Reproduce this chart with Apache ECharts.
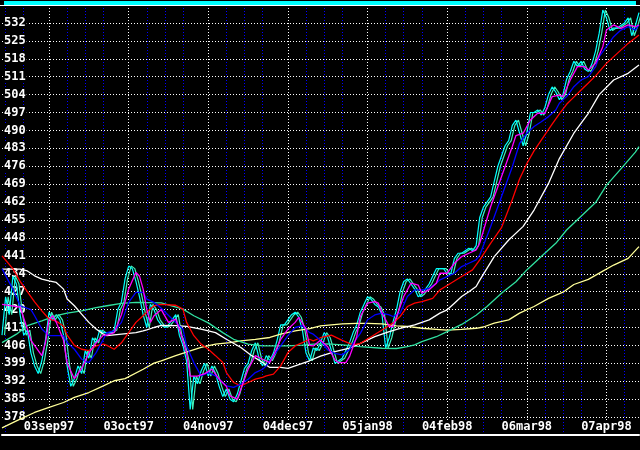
<!DOCTYPE html>
<html>
<head>
<meta charset="utf-8">
<script src="https://cdn.jsdelivr.net/npm/echarts@6/dist/echarts.min.js"></script>
<style>
html,body{margin:0;padding:0;background:#000;}
#chart{width:640px;height:450px;}
</style>
</head>
<body>
<div id="chart"></div>
<script>
// ---- data ----
const startDate = '1997-08-15';
const dayCount = 177;
const tickLabels = ['03sep97','03oct97','04nov97','04dec97','05jan98','04feb98','06mar98','07apr98'];
const yTickValues = [378,385,392,399,406,413,420,427,434,441,448,455,462,469,476,483,490,497,504,511,518,525,532];

const price = [410,425,418,433,430,418,410,412,403,398,
395,400,408,419,416,418,416,410,398,390,
393,398,395,404,401,409,407,412,411,411,
411,412,420,423,432,437,436,431,425,418,
413,422,420,416,414,413,414,416,418,410,
406,400,381,394,391,396,399,394,398,395,
390,386,389,385,384,387,392,397,399,404,
407,401,398,402,400,403,408,414,414,416,
418,419,417,412,403,400,405,404,407,411,
409,404,399,400,401,404,407,411,414,419,
422,425,424,422,421,418,405,409,415,420,
427,431,432,430,428,425,426,428,430,433,
436,436,436,434,434,440,442,442,443,444,
443,445,456,460,462,464,470,476,480,484,
486,492,494,489,484,489,497,497,498,496,
499,504,507,505,502,504,510,513,517,515,
517,514,513,516,521,528,537,534,529,530,
530,531,532,534,527,531,536];

const magentaMA = [[0,422],[5,421],[8,408],[11,402],[12,407],[13,416],[14,417.6],[15,415],[17,408],[18,399],[20,393],[22,397],[24,403],[26,407],[28,410],[29,410],[31,411],[33,418],[35,428],[37,434.5],[38,433],[39,428],[40,420],[41,415],[42,417.6],[44,420],[46,415],[48,416.3],[49,412.4],[51,403],[52,394],[54,394],[56,395],[58,396.7],[60,392.8],[62,390],[63,386.3],[65,385],[66,389],[68,396.7],[70,402],[72,400.6],[74,399.3],[75,402],[77,408.4],[79,412.4],[81,415],[82,417],[84,412.4],[85,406],[86,405.8],[88,408],[90,405.5],[92,400.3],[93,399.3],[95,399.3],[96,401.6],[98,409.4],[99,417.3],[101,422.5],[103,423.1],[104,422.5],[105,418.6],[107,413.4],[108,413.4],[109,417.3],[111,425.1],[113,430.3],[115,429.6],[116,426.4],[118,427.7],[120,430.3],[121,434.2],[123,434.2],[125,438.1],[127,440.7],[129,442],[131,443.3],[132,446],[135,460.2],[138,471.9],[141,483.7],[142,488],[144,488.9],[146,494.1],[148,496.7],[150,496.7],[152,503.2],[154,503.8],[155,503.2],[157,509.7],[159,514.9],[161,514.9],[162,513.6],[164,516.2],[166,522.7],[167,529.2],[169,531.2],[171,529.9],[173,531.2],[175,530.5],[176,531.2]];

const blueMA = [[0,436],[3,428],[5,421.5],[8,420],[9,417.6],[11,412.4],[13,409.8],[15,409.8],[17,409.8],[18,407.1],[20,404.5],[22,400.6],[24,399.3],[26,403.2],[28,408.4],[29,411],[31,411.7],[33,415],[35,422.8],[37,426.7],[39,426.7],[40,424.1],[42,422.8],[44,420.5],[47,416.3],[50,412.4],[51,405.8],[53,399.3],[55,394.1],[57,395.4],[59,394.1],[61,391.5],[62,390.2],[64,389.6],[66,390.9],[68,392.8],[70,395.4],[72,396.7],[73,398],[75,401.9],[77,405.8],[79,409.8],[81,413],[83,413.7],[85,411],[86,410.4],[88,408],[90,404.2],[92,402.9],[94,402.3],[96,404.3],[97,406.8],[99,410.7],[101,416],[103,417.9],[105,418.6],[107,417.9],[108,417.3],[110,418.6],[112,425.1],[114,427.7],[116,427.7],[118,428.3],[120,430.3],[121,431.6],[123,432.9],[125,434.2],[127,436.8],[129,438.1],[131,439.4],[132,441.3],[135,452.4],[138,464.1],[141,475.8],[143,484.9],[145,488.9],[147,491.5],[149,493.4],[151,495.4],[153,498],[154,500.6],[156,503.2],[158,507.1],[160,509.7],[162,511],[164,514.9],[165,518.8],[167,522.7],[169,526.6],[171,529.2],[173,530.5],[175,529.2],[176,531.2]];

const redMA = [[0,441],[3,436],[5,431],[7,427],[9,423],[11,419.5],[13,416.3],[15,415.5],[17,413.5],[18,410],[20,406],[22,404.5],[24,404],[26,405.8],[28,406.5],[29,406],[31,404.5],[33,407],[35,411],[37,415],[39,417.6],[40,419],[42,421.5],[44,422],[48,421.7],[50,420.2],[51,415],[53,409.8],[55,406.5],[57,404.5],[59,402],[61,399.3],[62,395.4],[64,391.5],[66,390.2],[68,391.5],[70,392.8],[72,393.5],[73,394.1],[75,394.8],[77,398],[79,403.2],[81,405.8],[83,407.1],[85,408.4],[86,407.8],[88,409],[91,410],[94,408],[97,406.2],[99,406.8],[102,409.4],[105,412],[108,414.7],[110,417.3],[112,421.2],[114,422.5],[116,423.1],[119,424.4],[121,427.7],[124,430.3],[127,432.9],[130,435.5],[132,439.4],[135,445.9],[138,452],[141,463],[143,471],[145,477],[147,482],[149,486.2],[152,492.5],[154,496.5],[156,500.2],[158,503],[160,505.8],[162,508.5],[164,511.3],[167,516.2],[170,520.1],[173,524],[176,527.3]];

const whiteMA = [[0,435.8],[5,435.8],[7,435.1],[9,433.2],[11,431.9],[13,431.2],[15,430.6],[17,428],[18,424.1],[20,421.5],[22,418.2],[24,415],[26,412.4],[28,410.4],[29,409.8],[31,410.1],[33,410.4],[35,410.7],[37,411],[39,411.7],[40,412.1],[42,413],[44,413.8],[48,413.7],[51,413.4],[55,412.4],[59,411],[62,408.4],[66,405.2],[69,402],[72,399.3],[74,397.4],[77,397.4],[79,397],[81,398],[85,400],[88,401.8],[92,403.6],[96,404.9],[99,406.8],[103,409.4],[107,411.4],[110,412.7],[114,414],[118,416],[121,418.6],[123,419.9],[125,422.5],[127,425.1],[129,427],[131,429],[132,431.5],[136,440.7],[140,447.2],[144,452.5],[147,458.9],[151,469.3],[154,479],[158,488.9],[162,496.7],[165,504],[169,509.7],[173,512.3],[176,515.6]];

const greenMA = [[0,407.1],[4,410.4],[7,413.7],[11,415.6],[15,417.6],[18,418.6],[22,419.5],[26,420.8],[29,421.5],[33,422.4],[37,422.8],[44,422.6],[50,420.2],[53,417.6],[57,414.8],[61,411],[64,408.4],[68,406.5],[72,405.8],[79,405.8],[83,406.1],[86,406.5],[90,406.6],[94,406.2],[99,405.5],[105,404.9],[109,404.8],[112,405.5],[114,406.2],[116,407.5],[120,409.4],[123,411.4],[127,414.2],[131,417.8],[134,421.2],[138,426.4],[142,430.9],[145,435.5],[149,440.7],[153,445.9],[156,451.1],[160,456.5],[164,461.8],[167,468.5],[171,475],[175,481.5],[176,483.7]];

const yellowMA = [[0,373.8],[5,377.2],[9,379.8],[13,381.8],[17,383.7],[20,385.7],[24,387.6],[28,390.2],[31,392.2],[34,393],[39,396.7],[42,399.1],[44,400],[48,402],[52,403.9],[55,405.2],[59,406.5],[63,407.1],[66,407.8],[70,408.4],[74,409.1],[77,410.4],[81,411.7],[85,412.6],[88,413.6],[94,414.4],[98,414.6],[101,414.6],[105,414.4],[109,413.6],[112,413.4],[116,412.7],[120,412.3],[123,412],[127,412.3],[131,412.7],[133,413.2],[136,414.7],[140,416],[143,418.6],[147,421.2],[151,424.4],[155,426.8],[158,429.8],[162,431.8],[166,435],[169,437.4],[173,440],[176,444.6]];

// ---- categories (weekday calendar) ----
const months = ['jan','feb','mar','apr','may','jun','jul','aug','sep','oct','nov','dec'];
const categories = [];
(function(){
  const d = new Date(startDate + 'T12:00:00Z');
  while (categories.length < dayCount) {
    const wd = d.getUTCDay();
    if (wd !== 0 && wd !== 6) {
      const dd = String(d.getUTCDate()).padStart(2,'0');
      const yy = String(d.getUTCFullYear()).slice(2);
      categories.push(dd + months[d.getUTCMonth()] + yy);
    }
    d.setUTCDate(d.getUTCDate() + 1);
  }
})();
const labelIdx = tickLabels.map(t => categories.indexOf(t));
const anchors = [labelIdx[0] - (labelIdx[1] - labelIdx[0])].concat(labelIdx);
function isLabel(i){ return labelIdx.indexOf(i) >= 0; }
function isWeek(i){ return anchors.some(a => [5,10,15].indexOf(i - a) >= 0); }

const FONT = 'DejaVu Sans Mono';
const chart = echarts.init(document.getElementById('chart'), null, {renderer:'canvas'});

function line(data, color, extra){
  return Object.assign({
    type:'line', data:data, showSymbol:false, symbol:'none', connectNulls:true,
    lineStyle:{color:color, width:1.3}, itemStyle:{color:color},
    animation:false, silent:true
  }, extra || {});
}

chart.setOption({
  backgroundColor:'#000',
  animation:false,
  grid:{left:1, right:1, top:5, bottom:15},
  xAxis:[{
    type:'category', data:categories, boundaryGap:false,
    axisLine:{show:true, lineStyle:{color:'#fff', width:2}},
    axisTick:{show:false},
    axisLabel:{
      inside:true, margin:2, color:'#fff', fontFamily:FONT, fontWeight:'bold', fontSize:12,
      backgroundColor:'#000', padding:[0,1,0,1],
      interval:function(i, v){ return isLabel(i); }
    },
    splitLine:{show:true, interval:function(i){ return isLabel(i); },
      lineStyle:{color:'#fff', type:[1,2], width:1}}
  },{
    type:'category', data:categories, boundaryGap:false, position:'top',
    axisLine:{show:false}, axisTick:{show:false}, axisLabel:{show:false},
    splitLine:{show:true, interval:function(i){ return isWeek(i); },
      lineStyle:{color:'#0000ff', type:[1,2], width:1}}
  }],
  yAxis:{
    type:'value', min:371, max:539, interval:7,
    axisLine:{show:false}, axisTick:{show:false},
    axisLabel:{
      inside:true, margin:1, color:'#fff', fontFamily:FONT, fontWeight:'bold', fontSize:12,
      backgroundColor:'#000', padding:[0,1,0,1],
      formatter:function(v){ return yTickValues.indexOf(v) >= 0 ? String(v) : ''; }
    },
    splitLine:{show:true, lineStyle:{color:'#fff', type:[1,2], width:1}}
  },
  graphic:[
    {type:'rect', shape:{x:4, y:1, width:632, height:4}, style:{fill:'#00ffff'}, z:100},
    {type:'line', shape:{x1:0, y1:5.5, x2:640, y2:5.5}, style:{stroke:'#fff', lineWidth:1}, z:100}
  ],
  series:[
    line(price, '#00ffff', {lineStyle:{color:'#00ffff', width:1.2, shadowColor:'#40f0b8', shadowOffsetX:2.5, shadowBlur:0}}),
    line(yellowMA, '#ffff99'),
    line(greenMA, '#30e0a0'),
    line(whiteMA, '#ffffff'),
    line(redMA, '#ff0000'),
    line(blueMA, '#0000ff'),
    line(magentaMA, '#ff00ff')
  ]
});
</script>
</body>
</html>
